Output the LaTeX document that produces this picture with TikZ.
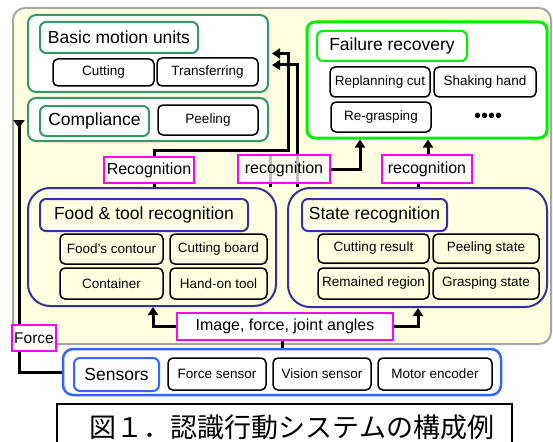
\documentclass[tikz,border=0pt]{standalone}
\usepackage{fontspec}
\setmainfont{Liberation Sans}
\newfontfamily\cjk{Noto Sans CJK JP}
\usetikzlibrary{arrows.meta}

\newlength{\du}
\setlength{\du}{1pt}

\definecolor{panelfill}{rgb}{1.000000, 1.000000, 0.882353}
\definecolor{panelline}{rgb}{0.650000, 0.650000, 0.650000}
\definecolor{motionline}{rgb}{0.200000, 0.600000, 0.400000}
\definecolor{failline}{rgb}{0.000000, 0.950000, 0.000000}
\definecolor{recogline}{rgb}{0.200000, 0.200000, 0.600000}
\definecolor{sensorline}{rgb}{0.200000, 0.400000, 1.000000}
\definecolor{tagline}{rgb}{1.000000, 0.000000, 1.000000}

\pgfdeclarelayer{back}
\pgfdeclarelayer{lines}
\pgfsetlayers{back,lines,main}

\tikzset{
  size/.style 2 args={minimum width=#1\du, minimum height=#2\du},
  group/.style={rectangle, draw=#1, line width=2\du, rounded corners=8\du, fill=white, inner sep=0pt},
  grouptitle/.style={rectangle, draw=#1, line width=2\du, rounded corners=6\du, fill=white, inner sep=0pt,
    font=\fontsize{17.5}{20}\selectfont},
  item/.style={rectangle, draw=black, line width=1.5\du, rounded corners=5\du, fill=white, inner sep=0pt,
    font=\fontsize{13.5}{15}\selectfont},
  tag/.style={rectangle, draw=tagline, line width=2\du, fill=white, inner sep=0pt,
    font=\fontsize{16}{18}\selectfont},
  line/.style={draw=black, line width=3\du},
  conn/.style={line, -{Triangle[width=10pt, length=8pt]}},
}

\begin{document}
\begin{tikzpicture}
\pgftransformxscale{1.000000}
\pgftransformyscale{-1.000000}
\useasboundingbox (0\du,0\du) rectangle (553\du,441\du);

% panel
\begin{pgfonlayer}{back}
\draw[fill=panelfill, draw=panelline, line width=2\du, rounded corners=12\du] (13\du,8\du) rectangle (551\du,344\du);
\end{pgfonlayer}

% basic motion units
\node[group=motionline, size={240}{77}] (bmu) at (148\du,53.5\du) {};
\node[grouptitle=motionline, size={158}{31}] (bmutitle) at (119\du,37.5\du) {Basic motion units};
\node[item, size={101}{27}] (cutting) at (103.5\du,72.5\du) {Cutting};
\node[item, size={101}{28}] (transfer) at (207.5\du,72\du) {Transferring};

% compliance
\node[group=motionline, size={240}{43}] (comp) at (148\du,119.5\du) {};
\node[grouptitle=motionline, size={109}{30}] (comptitle) at (94.5\du,121\du) {Compliance};
\node[item, size={100}{30}] (peeling) at (208\du,120\du) {Peeling};

% failure recovery
\node[group=failline, line width=3\du, size={240}{116}] (fail) at (427\du,80\du) {};
\node[grouptitle=failline, size={150}{30}] (failtitle) at (392\du,46\du) {Failure recovery};
\node[item, size={100}{30}] (replan) at (380\du,82\du) {Replanning cut};
\node[item, size={102}{30}] (shaking) at (485\du,82\du) {Shaking hand};
\node[item, size={100}{30}] (regrasp) at (381\du,117\du) {Re-grasping};
\node[font=\fontsize{20}{20}\selectfont] (dots) at (488\du,118\du) {\textbullet\textbullet\textbullet\textbullet};

% food & tool recognition
\node[group=recogline, rounded corners=22\du, fill=none, size={248}{118}] (foodG) at (152\du,247\du) {};
\node[grouptitle=recogline, fill=panelfill, size={208}{32}] (foodtitle) at (144\du,215\du) {Food \& tool recognition};
\node[item, fill=panelfill, size={103}{30}] (contour) at (111.5\du,249\du) {Food's contour};
\node[item, fill=panelfill, size={97}{30}] (board) at (218.5\du,249\du) {Cutting board};
\node[item, fill=panelfill, size={103}{31}] (container) at (111.5\du,283.5\du) {Container};
\node[item, fill=panelfill, size={97}{31}] (handtool) at (218.5\du,283.5\du) {Hand-on tool};

% state recognition
\node[group=recogline, rounded corners=22\du, fill=none, size={259}{119}] (stateG) at (417.5\du,247.5\du) {};
\node[grouptitle=recogline, fill=panelfill, size={145}{32}] (statetitle) at (374.5\du,215\du) {State recognition};
\node[item, fill=panelfill, size={111}{29}] (cutres) at (373.5\du,248.5\du) {Cutting result};
\node[item, fill=panelfill, size={106}{29}] (peelst) at (486\du,248.5\du) {Peeling state};
\node[item, fill=panelfill, size={111}{31}] (remain) at (373.5\du,283.5\du) {Remained region};
\node[item, fill=panelfill, size={106}{31}] (graspst) at (486\du,283.5\du) {Grasping state};

% sensors
\node[group=sensorline, line width=2.5\du, rounded corners=10\du, size={438}{46}] (sens) at (282\du,372\du) {};
\node[grouptitle=sensorline, size={85}{33}] (senstitle) at (116.5\du,374.5\du) {Sensors};
\node[item, size={98}{32}] (forcesens) at (217\du,374\du) {Force sensor};
\node[item, size={98}{32}] (visionsens) at (322\du,374\du) {Vision sensor};
\node[item, size={114}{32}] (motorenc) at (435\du,374\du) {Motor encoder};

% tags
\node[tag, size={90}{26}] (recL) at (149\du,170\du) {Recognition};
\node[tag, fill opacity=0.75, text opacity=1, size={92}{28}] (recM) at (284\du,169\du) {recognition};
\node[tag, size={90}{28}] (recR) at (427\du,169\du) {recognition};
\node[tag, size={216}{27}] (img) at (285\du,326.5\du) {Image, force, joint angles};
\node[tag, font=\fontsize{15.5}{17}\selectfont, size={44}{26}] (force) at (34\du,338\du) {Force};

% bends
\coordinate (xA) at (154\du,150\du);
\coordinate (xB) at (288\du,150\du);
\coordinate (xC) at (297\du,65\du);
\coordinate (xD) at (270\du,0\du);
\coordinate (xE) at (360\du,169\du);
\coordinate (xF) at (418\du,0\du);
\coordinate (xG) at (428\du,0\du);
\coordinate (xH) at (153\du,327\du);
\coordinate (xI) at (418\du,327\du);
\coordinate (xJ) at (282\du,0\du);
\coordinate (xK) at (19\du,120\du);
\coordinate (tipA) at (272\du,53.5\du);
\coordinate (tipB) at (272\du,65\du);

% connectors
\begin{pgfonlayer}{lines}
\draw[line] (foodG.north -| xA) -- (recL.south -| xA);
\draw[conn] (recL.north -| xA) |- (xB) |- (tipA);
\draw[line] (foodG.north -| xD) -- (recM.north -| xD);
\draw[conn] (stateG.north -| xC) |- (tipB);
\draw[conn] (recM.east) -| (fail.south -| xE);
\draw[line] (stateG.north -| xF) -- (recR.south -| xF);
\draw[conn] (recR.north -| xG) -- (fail.south -| xG);
\draw[conn] (img.west) -| (foodG.south -| xH);
\draw[conn] (img.east) -| (stateG.south -| xI);
\draw[line] (sens.north -| xJ) -- (img.south -| xJ);
\draw[line, -{Triangle[reversed, width=11pt, length=8pt]}] (sens.west) -| (xK);
\end{pgfonlayer}

% caption
\draw[line width=1.5\du] (57\du,452\du) -- (57\du,404\du) -- (512\du,404\du) -- (512\du,452\du);
\node[font=\cjk\fontsize{27}{30}\selectfont] (caption) at (292\du,427\du) {図１．認識行動システムの構成例};
\end{tikzpicture}
\end{document}
